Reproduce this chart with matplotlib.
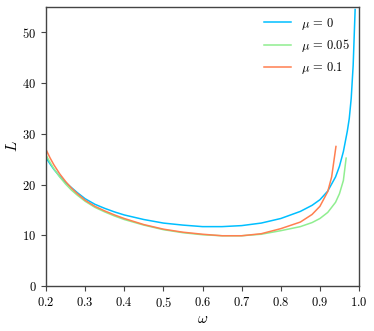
import matplotlib
matplotlib.use("Agg")
import matplotlib.pyplot as plt

plt.rcParams['font.family'] = 'serif'
plt.rcParams['font.serif'] = ['cmr10']
plt.rcParams['mathtext.fontset'] = 'cm'
plt.rcParams['axes.formatter.use_mathtext'] = True
plt.rcParams['axes.unicode_minus'] = False

# mu = 0
w0 = [0.2, 0.21, 0.22, 0.235, 0.25, 0.265, 0.28, 0.3, 0.325, 0.35, 0.375, 0.4, 0.45, 0.5,
      0.55, 0.6, 0.65, 0.7, 0.75, 0.8, 0.85, 0.88, 0.9, 0.92, 0.94, 0.95, 0.96, 0.97,
      0.975, 0.98, 0.985, 0.99]
L0 = [25.3, 24.1, 23.0, 21.6, 20.4, 19.4, 18.4, 17.2, 16.1, 15.3, 14.6, 14.0, 13.1, 12.4,
      12.0, 11.7, 11.7, 11.9, 12.4, 13.3, 14.7, 15.9, 17.0, 18.7, 21.5, 23.6, 26.5, 30.5,
      33.0, 37.0, 43.5, 54.5]

# mu = 0.05
w1 = [0.2, 0.21, 0.22, 0.235, 0.25, 0.265, 0.28, 0.3, 0.325, 0.35, 0.375, 0.4, 0.45, 0.5,
      0.55, 0.6, 0.65, 0.7, 0.75, 0.8, 0.85, 0.88, 0.9, 0.92, 0.94, 0.95, 0.96, 0.967]
L1 = [25.8, 24.4, 23.1, 21.5, 20.1, 18.9, 17.9, 16.7, 15.5, 14.6, 13.8, 13.1, 12.0, 11.1,
      10.5, 10.1, 9.9, 9.9, 10.2, 10.9, 11.7, 12.5, 13.3, 14.5, 16.5, 18.2, 20.8, 25.2]

# mu = 0.1
w2 = [0.2, 0.21, 0.22, 0.235, 0.25, 0.265, 0.28, 0.3, 0.325, 0.35, 0.375, 0.4, 0.45, 0.5,
      0.55, 0.6, 0.65, 0.7, 0.75, 0.8, 0.85, 0.88, 0.9, 0.92, 0.93, 0.941]
L2 = [26.9, 25.3, 23.9, 22.1, 20.6, 19.3, 18.2, 16.9, 15.7, 14.8, 14.0, 13.3, 12.1, 11.2,
      10.6, 10.2, 9.9, 9.9, 10.3, 11.3, 12.6, 14.1, 15.7, 18.6, 21.5, 27.5]

fig = plt.figure(figsize=(3.74, 3.31), dpi=100)
ax = fig.add_axes([0.123, 0.136, 0.837, 0.843])

ax.plot(w0, L0, color='deepskyblue', lw=1.1, label=r'$\mu\,=\,0$')
ax.plot(w1, L1, color='lightgreen', lw=1.1, label=r'$\mu\,=\,0.05$')
ax.plot(w2, L2, color='coral', lw=1.1, label=r'$\mu\,=\,0.1$')

ax.set_xlim(0.2, 1.0)
ax.set_ylim(0, 55)
ax.set_xticks([0.2, 0.3, 0.4, 0.5, 0.6, 0.7, 0.8, 0.9, 1.0])
ax.set_yticks([0, 10, 20, 30, 40, 50])
ax.set_xlabel(r'$\omega$', fontsize=11, labelpad=2)
ax.set_ylabel(r'$L$', fontsize=11, labelpad=2)
ax.tick_params(labelsize=9, length=3.5, width=0.8, color='#444444')
for s in ax.spines.values():
    s.set_color('#444444')
    s.set_linewidth(1.0)

ax.legend(loc='upper right', frameon=False, fontsize=9, handlelength=2.2,
          labelspacing=0.45, borderaxespad=0.3, handletextpad=0.8)

fig.savefig('out.png', dpi=100)
